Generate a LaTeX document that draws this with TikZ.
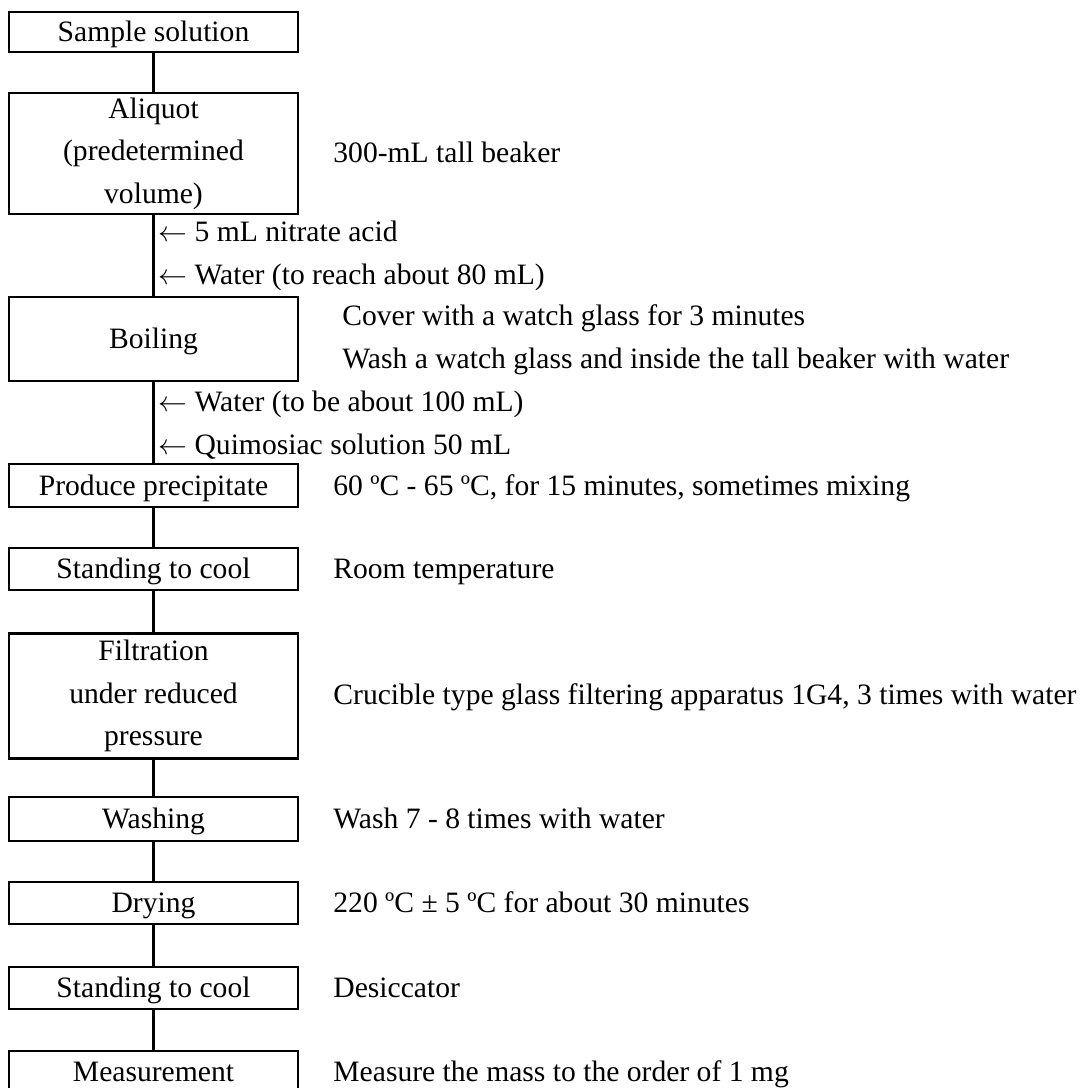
\documentclass[tikz,border=0pt]{standalone}
\usepackage{fontspec}
\setmainfont{Liberation Serif}
\usepackage{tikz}
\usetikzlibrary{positioning}
\tikzset{
  stepbox/.style={draw=black,line width=1.1pt,minimum width=144.5pt,inner sep=0pt,
    align=center,font=\fontsize{14.8}{21.3}\selectfont},
  link/.style={line width=1.1pt,black},
  sidenote/.style={anchor=west,inner sep=0pt,align=left,
    font=\fontsize{14.8}{21.3}\selectfont},
  addnote/.style={sidenote},
  oneline/.style={text height=12pt,text depth=2.5pt}
}
\begin{document}
\begin{tikzpicture}[x=0.5pt,y=-0.5pt]
  \useasboundingbox (0,0) rectangle (1084,1088);
  % process steps
  \node[stepbox,oneline,minimum height=20pt]   (s1)  at (153.5,  32.0) {Sample solution};
  \node[stepbox,minimum height=60.5pt]         (s2)  at (153.5, 153.5) {Aliquot\\(predetermined\\volume)};
  \node[stepbox,oneline,minimum height=42pt]   (s3)  at (153.5, 339.0) {Boiling};
  \node[stepbox,oneline,minimum height=21.5pt] (s4)  at (153.5, 485.5) {Produce precipitate};
  \node[stepbox,oneline,minimum height=21pt]   (s5)  at (153.5, 569.0) {Standing to cool};
  \node[stepbox,minimum height=62.5pt]         (s6)  at (153.5, 696.0) {Filtration\\under reduced\\pressure};
  \node[stepbox,oneline,minimum height=22pt]   (s7)  at (153.5, 819.0) {Washing};
  \node[stepbox,oneline,minimum height=21pt]   (s8)  at (153.5, 903.0) {Drying};
  \node[stepbox,oneline,minimum height=21pt]   (s9)  at (153.5, 988.0) {Standing to cool};
  \node[stepbox,oneline,minimum height=21pt]   (s10) at (153.5,1072.0) {Measurement};
  % reagents added on the way
  \node[addnote] (r1) at (158, 256) {$\leftarrow$ 5 mL nitrate acid\\$\leftarrow$ Water (to reach about 80 mL)};
  \node[addnote] (r2) at (158, 425) {$\leftarrow$ Water (to be about 100 mL)\\$\leftarrow$ Quimosiac solution 50 mL};
  % conditions
  \node[sidenote,oneline] (c2)  at (333, 152.5) {300-mL tall beaker};
  \node[sidenote]         (c3)  at (342, 339.5) {Cover with a watch glass for 3 minutes\\Wash a watch glass and inside the tall beaker with water};
  \node[sidenote,oneline] (c4)  at (333, 485.5) {60 ºC - 65 ºC, for 15 minutes, sometimes mixing};
  \node[sidenote,oneline] (c5)  at (333, 569.0) {Room temperature};
  \node[sidenote,oneline] (c6)  at (333, 694.5) {Crucible type glass filtering apparatus 1G4, 3 times with water};
  \node[sidenote,oneline] (c7)  at (333, 819.0) {Wash 7 - 8 times with water};
  \node[sidenote,oneline] (c8)  at (333, 903.0) {220 ºC ± 5 ºC for about 30 minutes};
  \node[sidenote,oneline] (c9)  at (333, 988.0) {Desiccator};
  \node[sidenote,oneline] (c10) at (333,1072.0) {Measure the mass to the order of 1 mg};
  % flow lines
  \foreach \a/\b in {s1/s2,s2/s3,s3/s4,s4/s5,s5/s6,s6/s7,s7/s8,s8/s9,s9/s10}
    \draw[link] (\a.south) -- (\b.north);
\end{tikzpicture}
\end{document}
